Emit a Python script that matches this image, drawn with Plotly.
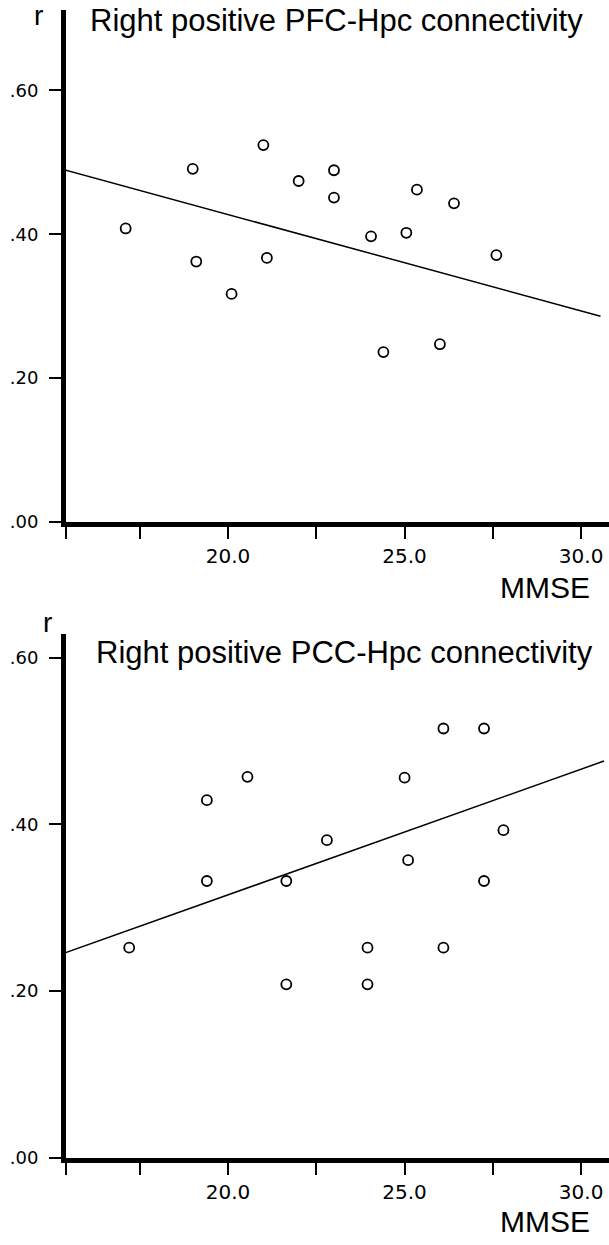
import plotly.graph_objects as go

# Values (MMSE score vs. connectivity r)
pfc_mmse = [17.1, 19.0, 19.1, 20.1, 21.0, 21.1, 22.0, 23.0, 23.0, 24.05, 24.4, 25.05, 25.35, 26.0, 26.4, 27.6]
pfc_r = [0.408, 0.491, 0.362, 0.317, 0.524, 0.367, 0.474, 0.489, 0.451, 0.397, 0.236, 0.402, 0.462, 0.247, 0.443, 0.371]

pcc_mmse = [17.2, 19.4, 19.4, 20.55, 21.65, 21.65, 22.8, 23.95, 23.95, 25.0, 25.1, 26.1, 26.1, 27.25, 27.25, 27.8]
pcc_r = [0.252, 0.332, 0.429, 0.457, 0.332, 0.208, 0.381, 0.252, 0.208, 0.456, 0.357, 0.515, 0.252, 0.515, 0.332, 0.393]

# Fit lines, end points
pfc_fit_x = [15.4, 30.55]
pfc_fit_r = [0.489, 0.286]
pcc_fit_x = [15.4, 30.65]
pcc_fit_r = [0.246, 0.476]

x_range = [15.41, 30.79]
x_tickvals = [15.41, 17.5, 20, 22.5, 25, 27.5, 30]
x_ticktext = ["", "", "20.0", "", "25.0", "", "30.0"]
y_tickvals = [0, 0.2, 0.4, 0.6]
y_ticktext = [".00", ".20", ".40", ".60"]

titles = ["Right positive PFC-Hpc connectivity", "Right positive PCC-Hpc connectivity"]

W, H = 609, 1245


def px_x(p):
    return p / W


def px_y(p):
    return (H - p) / H


fig = go.Figure()

for i, (mx, r, fx, fr) in enumerate([(pfc_mmse, pfc_r, pfc_fit_x, pfc_fit_r),
                                     (pcc_mmse, pcc_r, pcc_fit_x, pcc_fit_r)]):
    xa = "x" if i == 0 else "x2"
    ya = "y" if i == 0 else "y2"
    fig.add_trace(go.Scatter(x=fx, y=fr, mode="lines", xaxis=xa, yaxis=ya,
                             line=dict(color="black", width=1.5), showlegend=False))
    fig.add_trace(go.Scatter(x=mx, y=r, mode="markers", xaxis=xa, yaxis=ya,
                             marker=dict(symbol="circle", size=10, color="white",
                                         line=dict(color="black", width=1.8)),
                             showlegend=False))

xaxis_style = dict(range=x_range, domain=[px_x(66), 1], showline=True, linewidth=5,
                   linecolor="black", ticks="outside", ticklen=12, tickwidth=2,
                   tickcolor="black", tickvals=x_tickvals, ticktext=x_ticktext,
                   tickfont=dict(family="DejaVu Sans", size=20, color="black"),
                   showgrid=False, zeroline=False)
yaxis_style = dict(showline=True, linewidth=5, linecolor="black", ticks="outside",
                   ticklen=12, tickwidth=2, tickcolor="black", tickvals=y_tickvals,
                   ticktext=y_ticktext, ticklabelstandoff=7,
                   tickfont=dict(family="DejaVu Sans", size=18, color="black"),
                   showgrid=False, zeroline=False)

fig.update_layout(
    width=W, height=H, margin=dict(l=0, r=0, t=0, b=0),
    paper_bgcolor="white", plot_bgcolor="white",
    xaxis=dict(anchor="y", **xaxis_style),
    yaxis=dict(anchor="x", domain=[px_y(526), px_y(10)], range=[0, 0.712], **yaxis_style),
    xaxis2=dict(anchor="y2", **xaxis_style),
    yaxis2=dict(anchor="x2", domain=[px_y(1167), px_y(639)], range=[0, 0.6286], **yaxis_style),
)

label_font = dict(family="Liberation Sans", size=31, color="black")
mmse_font = dict(family="Liberation Sans", size=30, color="black")
r_font = dict(family="Liberation Sans", size=28, color="black")
# panel titles, "r" and "MMSE" labels
for title, ty, tx, ry, rx, my in [(titles[0], 21, 88, 16, 38, 592),
                                  (titles[1], 658, 94, 628, 47, 1231)]:
    fig.add_annotation(text=title, xref="paper", yref="paper", x=px_x(tx), y=px_y(ty),
                       xanchor="left", yanchor="middle", showarrow=False, font=label_font)
    fig.add_annotation(text="r", xref="paper", yref="paper", x=px_x(rx), y=px_y(ry),
                       xanchor="center", yanchor="middle", showarrow=False, font=r_font)
    fig.add_annotation(text="MMSE", xref="paper", yref="paper", x=px_x(545), y=px_y(my),
                       xanchor="center", yanchor="middle", showarrow=False, font=mmse_font)

# drop the default page margin so the figure sits at the window's corner
fig.write_html("out.html", config={"displayModeBar": False},
               post_script="document.body.style.margin='0';document.body.style.overflow='hidden';")
